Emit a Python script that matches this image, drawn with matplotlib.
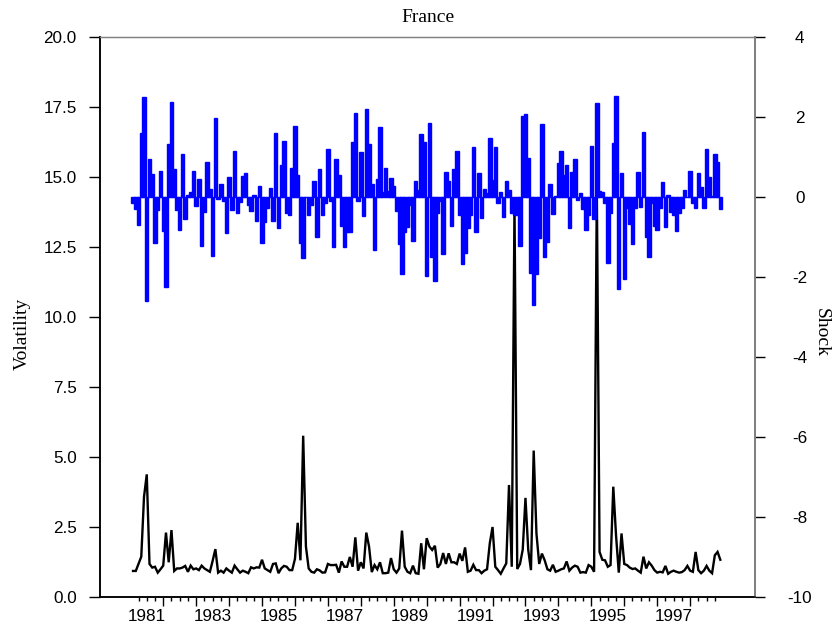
import numpy as np
import matplotlib
matplotlib.use("Agg")
import matplotlib.pyplot as plt
import matplotlib.transforms as mtransforms

# monthly series, Jan 1981 - Nov 1998 (one row per year)
volatility = [
    0.93, 0.93, 1.18, 1.44, 3.58, 4.38, 1.18, 1.05, 1.08, 0.87, 0.99, 1.12,
    2.30, 1.24, 2.39, 0.93, 1.02, 1.02, 1.05, 1.11, 0.90, 1.12, 0.99, 1.02,
    0.96, 1.12, 1.02, 0.96, 0.90, 1.29, 1.71, 0.87, 0.94, 0.87, 1.02, 0.94,
    0.87, 1.12, 0.99, 0.87, 0.94, 0.90, 0.85, 1.06, 1.02, 1.06, 1.05, 1.33,
    1.02, 0.96, 0.90, 1.18, 1.20, 0.85, 1.02, 1.11, 1.08, 0.96, 0.96, 1.36,
    2.65, 1.31, 5.76, 1.80, 1.02, 0.90, 0.87, 0.99, 0.95, 0.87, 0.88, 1.18,
    1.14, 1.14, 1.15, 0.87, 1.27, 1.08, 1.08, 1.43, 1.08, 2.13, 0.94, 1.24,
    1.02, 2.30, 1.80, 0.89, 1.14, 0.99, 1.24, 0.85, 0.85, 0.87, 1.39, 0.99,
    0.87, 1.02, 2.37, 1.08, 0.90, 0.85, 1.12, 0.85, 0.83, 1.92, 0.99, 2.10,
    1.80, 1.68, 1.83, 1.05, 1.18, 1.57, 1.18, 1.56, 1.24, 1.24, 1.18, 1.55,
    1.29, 1.77, 0.90, 0.94, 1.15, 0.96, 0.96, 0.85, 0.94, 0.99, 1.92, 2.50,
    1.08, 0.96, 0.83, 1.02, 1.20, 4.00, 1.08, 14.0, 1.00, 1.18, 1.69, 3.54,
    1.69, 0.96, 5.23, 2.27, 1.18, 1.55, 1.31, 0.99, 0.94, 1.15, 0.90, 0.94,
    0.99, 1.02, 1.27, 0.94, 1.05, 1.12, 1.08, 0.87, 0.89, 0.87, 1.14, 1.08,
    0.90, 14.6, 1.61, 1.33, 1.31, 1.08, 1.14, 3.94, 2.20, 0.87, 2.27, 1.18,
    1.14, 1.05, 1.00, 1.02, 0.94, 0.87, 1.44, 1.02, 1.24, 1.12, 0.96, 0.87,
    0.90, 0.88, 1.11, 0.83, 0.90, 0.94, 0.90, 0.87, 0.89, 0.96, 1.11, 0.94,
    0.90, 1.61, 0.96, 0.85, 0.94, 1.11, 0.94, 0.85, 1.49, 1.61, 1.33,
]

shock = [
    -0.15, -0.30, -0.70, 1.60, 2.50, -2.60, 0.95, 0.58, -1.16, -0.33, 0.66, -0.84,
    -2.26, 1.33, 2.37, 0.69, -0.33, -0.83, 1.08, -0.56, 0.04, 0.13, 0.65, -0.23,
    0.45, -1.23, -0.37, 0.88, 0.21, -1.48, 1.98, -0.05, 0.33, -0.09, -0.90, 0.49,
    -0.33, 1.14, -0.39, -0.12, 0.52, 0.59, -0.20, -0.35, 0.04, -0.59, 0.28, -1.16,
    -0.62, -0.28, 0.23, -0.60, 1.60, -0.78, 0.80, 1.40, -0.41, -0.45, 0.72, 1.78,
    0.55, -1.14, -1.53, 0.00, -0.45, -0.20, 0.41, -1.00, 0.69, -0.45, -0.16, 1.20,
    -0.10, -1.24, 0.95, 0.55, -0.72, -1.24, -0.88, -0.88, 1.38, 2.09, -0.10, 1.12,
    -0.48, 2.19, 1.33, 0.32, -1.33, 0.46, 1.74, 0.13, 0.73, 0.15, 0.48, 0.28,
    -0.34, -1.18, -1.93, -0.87, -0.74, -0.21, -1.10, 0.41, 0.18, 1.58, 1.38, -1.97,
    1.84, -1.49, -2.10, -0.39, -0.09, -1.43, 0.62, 0.40, -0.72, 0.69, 1.16, -0.45,
    -1.68, -1.39, -0.78, -0.45, 1.26, -0.87, 0.59, -0.53, 0.20, 0.11, 1.47, 0.43,
    1.26, -0.14, 0.13, -0.51, 0.39, 0.18, -0.39, -0.45, -0.45, -1.22, 2.02, 2.07,
    0.98, -1.89, -2.70, -1.93, -1.03, 1.82, -1.49, -1.12, 0.33, -0.43, 0.03, 0.84,
    1.14, 0.55, 0.79, -0.77, 0.62, 0.96, -0.07, 0.09, -0.29, -0.83, -0.45, 1.28,
    -0.56, 2.35, 0.16, 0.12, -0.14, -1.64, -0.41, 1.36, 2.52, -2.31, 0.59, -2.05,
    -0.27, -0.68, -1.18, -0.27, 0.62, -0.26, 1.62, -0.99, -1.49, -0.16, -0.72, -0.83,
    -0.27, 0.38, -0.76, 0.05, -0.37, -0.45, -0.85, -0.41, -0.27, 0.17, 0.00, 0.66,
    -0.16, -0.28, 0.61, 0.24, -0.27, 1.19, 0.51, 0.02, 1.07, 0.88, -0.31,
]

year_labels = [1981, 1983, 1985, 1987, 1989, 1991, 1993, 1995, 1997]

t = 1981 + (np.arange(len(shock)) + 1.0) / 12.0

W, H = 836, 631
fig = plt.figure(figsize=(W / 100, H / 100), dpi=100)
ax = fig.add_axes([100 / W, 34 / H, 655 / W, 560 / H])
ax2 = ax.twinx()

ax.plot(t, volatility, color="black", lw=1.7, solid_joinstyle="miter")
ax2.bar(t, shock, width=1.25 / 12, color="blue", edgecolor="blue", linewidth=1.0)

ax.set_xlim(1980.08, 1999.97)
ax.set_ylim(0, 20)
ax2.set_ylim(-10, 4)

tick_font = {"family": "Liberation Sans", "size": 12.3}
serif = "Liberation Serif"

# left axis
ax.set_yticks(np.arange(0, 20.01, 2.5))
ax.set_yticklabels(["%.1f" % v for v in np.arange(0, 20.01, 2.5)], fontdict=tick_font)
ax.tick_params(axis="y", direction="out", length=8, width=1, pad=8.8, color="black")

# right axis
ax2.set_yticks(np.arange(-10, 4.01, 2))
ax2.set_yticklabels(["%d" % v for v in np.arange(-10, 4.01, 2)], fontdict=tick_font)
ax2.tick_params(axis="y", direction="out", length=7.2, width=1, pad=25, color="black")
for lab in ax2.get_yticklabels():
    lab.set_horizontalalignment("center")

# time axis: year ticks, quarter minor ticks, labels centred on the year
ax.set_xticks(np.arange(1982, 1999))
ax.set_xticks([y + q / 4 for y in range(1981, 1999) for q in (1, 2, 3)], minor=True)
ax.set_xticklabels([])
ax.tick_params(axis="x", which="major", direction="out", length=6.7, width=1)
ax.tick_params(axis="x", which="minor", direction="out", length=3.1, width=1)
trans = mtransforms.blended_transform_factory(ax.transData, ax.transAxes)
for y in year_labels:
    ax.text(y + 0.5, -0.034, str(y), transform=trans, ha="center", va="center",
            fontdict=tick_font)

for a in (ax, ax2):
    a.spines["left"].set_color("black")
    a.spines["bottom"].set_color("black")
    a.spines["left"].set_linewidth(1.1)
    a.spines["bottom"].set_linewidth(1.1)
    a.spines["top"].set_color("#808080")
    a.spines["right"].set_color("#808080")
    a.spines["top"].set_linewidth(0.9)
    a.spines["right"].set_linewidth(1.4)

fig.text(427.5 / W, 1 - 18 / H, "France", ha="center", va="center",
         family=serif, size=14)
fig.text(22 / W, 1 - 334 / H, "Volatility", ha="center", va="center",
         rotation=90, family=serif, size=14)
fig.text(821 / W, 1 - 332 / H, "Shock", ha="center", va="center",
         rotation=-90, family=serif, size=14)

fig.savefig("out.png", dpi=100)
